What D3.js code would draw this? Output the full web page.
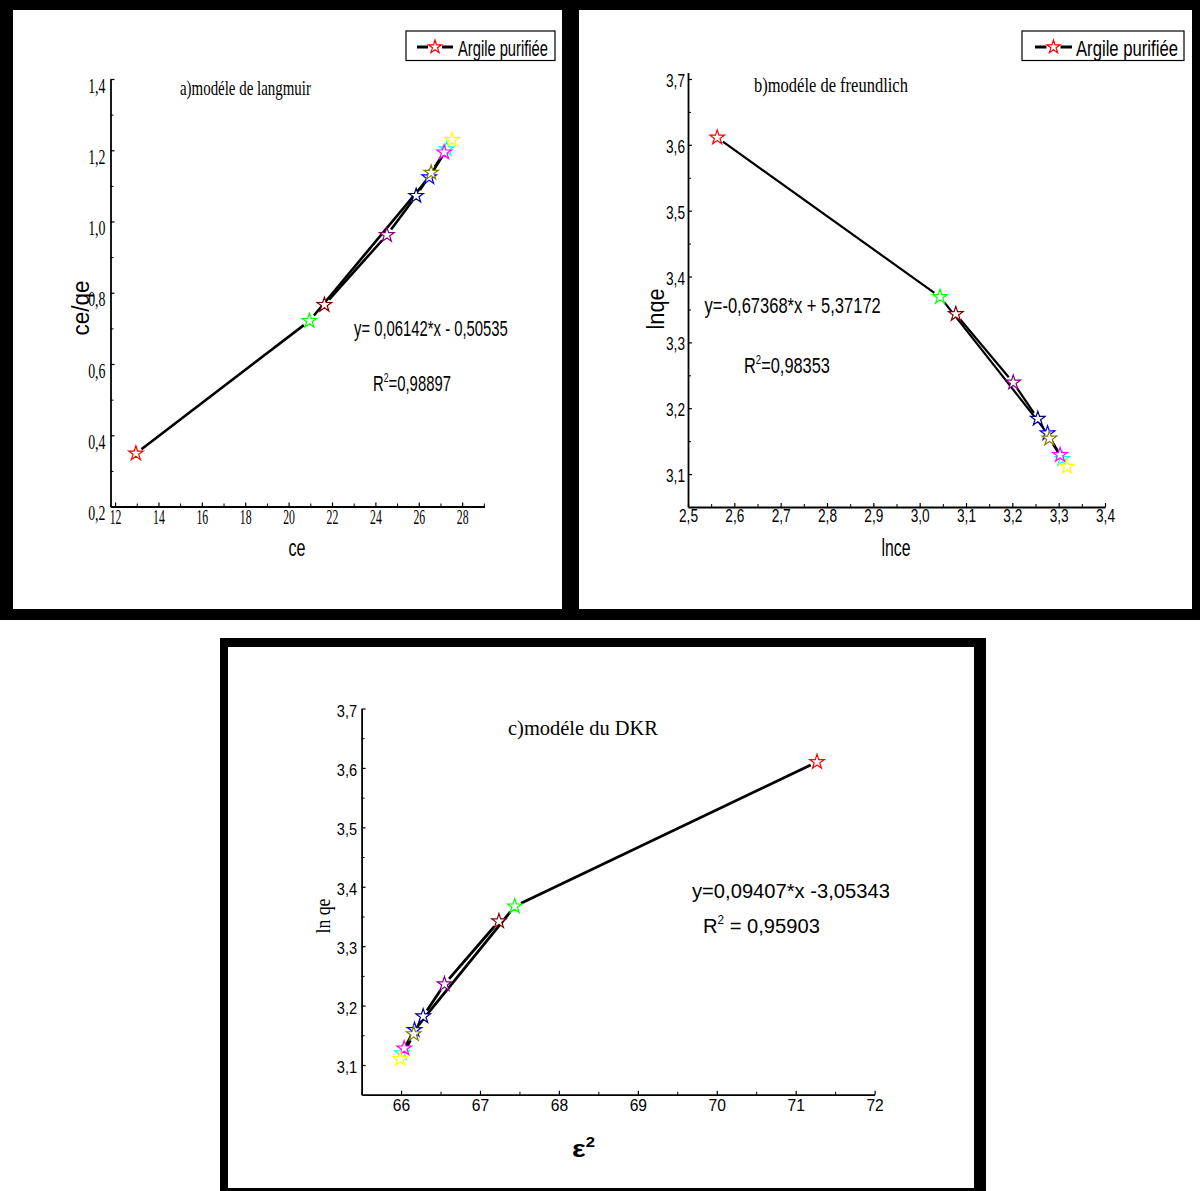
<!DOCTYPE html>
<html lang="fr">
<head>
<meta charset="utf-8">
<script src="https://d3js.org/d3.v7.min.js"></script>
<style>
  body { margin: 0; background: #fff; }
  svg { display: block; }
</style>
</head>
<body>
<script>
// symbol colours, in the order the points are joined by the line
var colors = ["#ff0000", "#00ff00", "#0000ff", "#00ffff", "#ff00ff", "#ffff00", "#808000", "#000080", "#800080", "#800000"];

// a) Langmuir : ce/qe vs ce
var ce   = [12.96, 20.96, 26.48, 27.29, 27.17, 27.54, 26.57, 25.88, 24.53, 21.65];
var ceqe = [0.349, 0.721, 1.124, 1.203, 1.194, 1.229, 1.137, 1.072, 0.962, 0.766];
var aXTicks = [12, 14, 16, 18, 20, 22, 24, 26, 28];
var aXMinor = [13, 15, 17, 19, 21, 23, 25, 27, 29];
var aYTicks = [0.2, 0.4, 0.6, 0.8, 1.0, 1.2, 1.4];
var aYMinor = [0.3, 0.5, 0.7, 0.9, 1.1, 1.3];

// b) Freundlich : lnqe vs lnce
var lnce  = [2.563, 3.044, 3.276, 3.308, 3.303, 3.318, 3.280, 3.255, 3.202, 3.078];
var lnqeB = [3.611, 3.369, 3.162, 3.123, 3.129, 3.111, 3.154, 3.184, 3.239, 3.343];
var bXTicks = [2.5, 2.6, 2.7, 2.8, 2.9, 3.0, 3.1, 3.2, 3.3, 3.4];
var bXMinor = [2.55, 2.65, 2.75, 2.85, 2.95, 3.05, 3.15, 3.25, 3.35];
var bYTicks = [3.1, 3.2, 3.3, 3.4, 3.5, 3.6, 3.7];
var bYMinor = [3.15, 3.25, 3.35, 3.45, 3.55, 3.65];

// c) DKR : ln qe vs eps^2
var eps2  = [71.27, 67.44, 66.17, 66.01, 66.04, 65.99, 66.16, 66.28, 66.55, 67.24];
var lnqeC = [3.610, 3.367, 3.159, 3.120, 3.128, 3.110, 3.152, 3.182, 3.236, 3.342];
var cXTicks = [66, 67, 68, 69, 70, 71, 72];
var cXMinor = [65.5, 66.5, 67.5, 68.5, 69.5, 70.5, 71.5];
var cYTicks = [3.1, 3.2, 3.3, 3.4, 3.5, 3.6, 3.7];
var cYMinor = [3.15, 3.25, 3.35, 3.45, 3.55, 3.65];

var SANS = "Liberation Sans, Arial, sans-serif";
var SERIF = "Liberation Serif, Times New Roman, serif";

var svg = d3.select("body").append("svg")
    .attr("width", 1200)
    .attr("height", 1191);

// frames
svg.append("rect").attr("width", 1200).attr("height", 1191).attr("fill", "#fff");
svg.append("rect").attr("width", 1200).attr("height", 620).attr("fill", "#000");
svg.append("rect").attr("x", 13).attr("y", 10).attr("width", 549).attr("height", 599).attr("fill", "#fff");
svg.append("rect").attr("x", 579).attr("y", 10).attr("width", 613).attr("height", 599).attr("fill", "#fff");
svg.append("rect").attr("x", 220).attr("y", 638).attr("width", 766).attr("height", 553).attr("fill", "#000");
svg.append("rect").attr("x", 228).attr("y", 647).attr("width", 746).attr("height", 541).attr("fill", "#fff");

var comma = function (k) {
    return function (d) { return d.toFixed(k).replace(".", ","); };
};

// text squeezed to a measured width; parts = [[string, isSuperscript], ...]
function label(o) {
    var g = svg.append("g");
    var size = o.size || 22;
    var t = g.append("text")
        .attr("font-family", o.font || SANS)
        .attr("font-size", size)
        .attr("font-weight", o.weight || "normal")
        .attr("text-anchor", o.anchor || "start")
        .attr("dy", o.dy || null)
        .attr("fill", "#000");
    var up = false;
    o.parts.forEach(function (p) {
        var s = t.append("tspan").text(p[0]);
        if (p[1]) {
            s.attr("font-size", size * 0.58).attr("dy", -size * 0.42);
            up = true;
        } else if (up) {
            s.attr("dy", size * 0.42);
            up = false;
        }
    });
    var w = t.node().getComputedTextLength();
    var sx = o.width ? o.width / w : 1;
    g.attr("transform", "translate(" + o.x + "," + o.y + ")" +
        (o.rotate ? " rotate(" + o.rotate + ")" : "") + " scale(" + sx + ",1)");
}

function legend(o) {
    var g = svg.append("g");
    g.append("rect")
        .attr("x", o.x0).attr("y", 31)
        .attr("width", o.x1 - o.x0).attr("height", 29.5)
        .attr("fill", "#fff").attr("stroke", "#000").attr("stroke-width", 1.2);
    g.append("line").attr("x1", o.l0).attr("x2", o.star - 7).attr("y1", 47).attr("y2", 47)
        .attr("stroke", "#000").attr("stroke-width", 3);
    g.append("line").attr("x1", o.star + 7).attr("x2", o.l1).attr("y1", 47).attr("y2", 47)
        .attr("stroke", "#000").attr("stroke-width", 3);
    g.append("path")
        .attr("transform", "translate(" + o.star + ",47)")
        .attr("d", d3.symbol(d3.symbolStar, 55)())
        .attr("fill", "#fff").attr("stroke", "#ff0000").attr("stroke-width", 1.2);
    label({ x: o.tx, y: 55.5, parts: [["Argile purifiée"]], width: o.tw, size: 22 });
}

function panel(o) {
    var g = svg.append("g");
    var x = d3.scaleLinear().domain(o.xDom).range(o.xRange);
    var y = d3.scaleLinear().domain(o.yDom).range(o.yRange);

    // minor ticks
    g.append("g").attr("transform", "translate(0," + o.yRange[0] + ")")
        .call(d3.axisBottom(x).tickValues(o.xMinor).tickSizeInner(-3).tickSizeOuter(0).tickFormat(""))
        .call(function (a) { a.select(".domain").remove(); });
    g.append("g").attr("transform", "translate(" + o.xRange[0] + ",0)")
        .call(d3.axisLeft(y).tickValues(o.yMinor).tickSizeInner(-3).tickSizeOuter(0).tickFormat(""))
        .call(function (a) { a.select(".domain").remove(); });

    var gx = g.append("g").attr("transform", "translate(0," + o.yRange[0] + ")")
        .call(d3.axisBottom(x).tickValues(o.xTicks).tickSizeInner(-4).tickSizeOuter(0).tickFormat(o.fmtX));
    var gy = g.append("g").attr("transform", "translate(" + o.xRange[0] + ",0)")
        .call(d3.axisLeft(y).tickValues(o.yTicks).tickSizeInner(-4).tickSizeOuter(0).tickFormat(o.fmtY));

    [gx, gy].forEach(function (a) {
        a.attr("font-family", o.tickFont).attr("font-size", o.tickSize);
        a.select(".domain").attr("stroke-width", 1.8);
        a.selectAll(".tick line").attr("stroke-width", 1.2);
        a.selectAll(".tick text").attr("fill", "#000").attr("x", 0).attr("y", 0).attr("dy", null);
    });
    g.selectAll(".tick line").attr("stroke", "#000");
    gx.selectAll(".tick text")
        .attr("transform", "translate(0," + o.xLabOff + ") scale(" + o.xSx + ",1)");
    gy.selectAll(".tick text")
        .attr("transform", "translate(" + (-o.yPad) + "," + o.yLabOff + ") scale(" + o.ySx + ",1)");

    // joining line, with a gap round each symbol
    var pts = o.xs.map(function (v, i) { return [x(v), y(o.ys[i])]; });
    var gap = 7;
    var segs = d3.pairs(pts).map(function (p) {
        var dx = p[1][0] - p[0][0], dy = p[1][1] - p[0][1];
        var len = Math.sqrt(dx * dx + dy * dy);
        if (len <= 2 * gap + 1) return null;
        var ux = dx / len, uy = dy / len;
        return [p[0][0] + ux * gap, p[0][1] + uy * gap, p[1][0] - ux * gap, p[1][1] - uy * gap];
    }).filter(function (s) { return s; });

    g.selectAll("line.seg").data(segs).join("line")
        .attr("class", "seg")
        .attr("x1", function (d) { return d[0]; })
        .attr("y1", function (d) { return d[1]; })
        .attr("x2", function (d) { return d[2]; })
        .attr("y2", function (d) { return d[3]; })
        .attr("stroke", "#000")
        .attr("stroke-width", o.lineW);

    g.selectAll("path.star").data(pts).join("path")
        .attr("class", "star")
        .attr("transform", function (d) { return "translate(" + d[0] + "," + d[1] + ")"; })
        .attr("d", d3.symbol(d3.symbolStar, 66)())
        .attr("fill", "#fff")
        .attr("stroke", function (d, i) { return colors[i]; })
        .attr("stroke-width", 1.2);
}

// a) modéle de langmuir
panel({
    xs: ce, ys: ceqe,
    xDom: [11.79, 29.03], xRange: [110.5, 484.5],
    yDom: [0.2, 1.4], yRange: [506.5, 79],
    xTicks: aXTicks, xMinor: aXMinor, yTicks: aYTicks, yMinor: aYMinor,
    fmtX: comma(0), fmtY: comma(1),
    tickFont: SERIF, tickSize: 21,
    xLabOff: 17, xSx: 0.56, yLabOff: 13, ySx: 0.66, yPad: 5,
    lineW: 2.6
});
legend({ x0: 406, x1: 555, l0: 417, l1: 453, star: 435, tx: 458, tw: 90 });
label({ x: 180, y: 95, parts: [["a)modéle de langmuir"]], font: SERIF, size: 22, width: 131 });
label({ x: 354, y: 336, parts: [["y= 0,06142*x - 0,50535"]], width: 154 });
label({ x: 373, y: 391, parts: [["R"], ["2", true], ["=0,98897"]], width: 78 });
label({ x: 81, y: 308, parts: [["ce/qe"]], anchor: "middle", dy: "0.35em", rotate: -90, size: 23, width: 55 });
label({ x: 297, y: 548, parts: [["ce"]], anchor: "middle", dy: "0.35em", size: 23, width: 17 });

// b) modéle de freundlich
panel({
    xs: lnce, ys: lnqeB,
    xDom: [2.5, 3.4], xRange: [688, 1105],
    yDom: [3.05, 3.71], yRange: [507, 72.4],
    xTicks: bXTicks, xMinor: bXMinor, yTicks: bYTicks, yMinor: bYMinor,
    fmtX: comma(1), fmtY: comma(1),
    tickFont: SANS, tickSize: 19,
    xLabOff: 15, xSx: 0.72, yLabOff: 7.5, ySx: 0.72, yPad: 3,
    lineW: 2.2
});
legend({ x0: 1022, x1: 1184, l0: 1035, l1: 1072, star: 1053.5, tx: 1076, tw: 102 });
label({ x: 754, y: 92, parts: [["b)modéle de freundlich"]], font: SERIF, size: 22, width: 154 });
label({ x: 704.5, y: 313, parts: [["y=-0,67368*x + 5,37172"]], width: 176.5 });
label({ x: 744, y: 373, parts: [["R"], ["2", true], ["=0,98353"]], width: 86 });
label({ x: 656, y: 309, parts: [["lnqe"]], anchor: "middle", dy: "0.35em", rotate: -90, size: 23, width: 41 });
label({ x: 896, y: 548, parts: [["lnce"]], anchor: "middle", dy: "0.35em", size: 23, width: 29 });

// c) modéle du DKR
panel({
    xs: eps2, ys: lnqeC,
    xDom: [65.5, 72], xRange: [361.6, 874.6],
    yDom: [3.05, 3.7], yRange: [1094.7, 708.5],
    xTicks: cXTicks, xMinor: cXMinor, yTicks: cYTicks, yMinor: cYMinor,
    fmtX: comma(0), fmtY: comma(1),
    tickFont: SANS, tickSize: 17,
    xLabOff: 16, xSx: 0.92, yLabOff: 7.5, ySx: 0.86, yPad: 4.5,
    lineW: 2.8
});
label({ x: 508, y: 735, parts: [["c)modéle du DKR"]], font: SERIF, size: 22, width: 150 });
label({ x: 692, y: 898, parts: [["y=0,09407*x -3,05343"]], size: 21, width: 198 });
label({ x: 703, y: 933, parts: [["R"], ["2", true], [" = 0,95903"]], size: 21, width: 117 });
label({ x: 323, y: 916, parts: [["ln qe"]], font: SERIF, anchor: "middle", dy: "0.35em", rotate: -90, size: 21, width: 35 });
label({ x: 572, y: 1157, parts: [["ε"], ["2", true]], weight: "bold", size: 24, width: 23 });
</script>
</body>
</html>
